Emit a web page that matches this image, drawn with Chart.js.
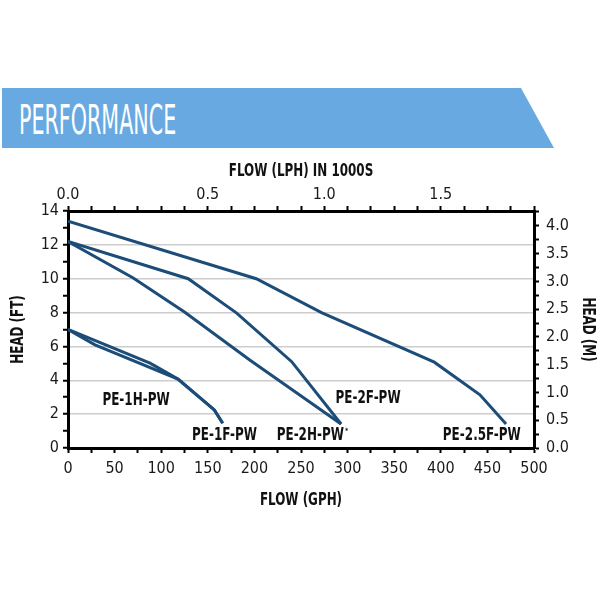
<!DOCTYPE html>
<html>
<head>
<meta charset="utf-8">
<script src="https://cdn.jsdelivr.net/npm/chart.js@4"></script>
<style>
  body { margin: 0; background: #fff; }
  #wrap { position: relative; width: 600px; height: 600px; }
  #chart { position: absolute; left: 0; top: 0; }
  .banner {
    position: absolute; left: 2px; top: 88px; width: 552px; height: 60px;
    background: #68a9e1;
    clip-path: polygon(0 0, 519px 0, 552px 100%, 0 100%);
  }
  .banner span {
    position: absolute; left: 17px; top: 12px;
    font-family: "DejaVu Sans Condensed", "Liberation Sans Narrow", sans-serif;
    font-size: 41px; line-height: 41px; color: #fff;
    transform: scaleX(0.56); transform-origin: left top;
    white-space: nowrap;
  }
</style>
</head>
<body>
<div id="wrap">
  <canvas id="chart" width="600" height="600"></canvas>
  <div class="banner"><span>PERFORMANCE</span></div>
</div>
<script>
// curves: flow in GPH, head in feet
const pe25fFlow = [0, 202, 272, 393, 442, 470];
const pe25fHead = [13.4, 10.0, 8.0, 5.07, 3.14, 1.42];
const pe2fFlow = [0, 129, 181, 240, 293];
const pe2fHead = [12.2, 10.0, 7.97, 5.1, 1.42];
const pe2hFlow = [0, 70, 125, 195, 293];
const pe2hHead = [12.2, 10.04, 8.03, 5.2, 1.42];
const pe1hFlow = [0, 29, 118, 157, 166];
const pe1hHead = [7.0, 6.09, 4.07, 2.25, 1.46];
const pe1fFlow = [0, 88, 118, 157, 166];
const pe1fHead = [7.0, 5.01, 4.07, 2.25, 1.46];

// curve names and where they sit (GPH, ft)
const labelNames = ["PE-1H-PW", "PE-1F-PW", "PE-2H-PW", "PE-2F-PW", "PE-2.5F-PW"];
const labelFlow = [73, 168, 260, 322, 444];
const labelHead = [2.84, 0.72, 0.72, 2.96, 0.72];

// top axis labels (LPH in 1000s) as printed, at these GPH ticks
const topTickGph = [0, 150, 275, 400];
const topTickText = ["0.0", "0.5", "1.0", "1.5"];

const lineColor = '#1c4c78';
const fontFam = '"DejaVu Sans Condensed", "Liberation Sans Narrow", sans-serif';
const tickFont = { family: fontFam, size: 16 };

function pts(xs, ys) {
    return xs.map((x, i) => ({ x: x, y: ys[i] }));
}

function curve(label, xs, ys) {
    return {
        label: label,
        data: pts(xs, ys),
        borderColor: lineColor,
        borderWidth: 3,
        pointRadius: 0,
        fill: false,
        tension: 0
    };
}

// narrow bold text, squeezed sideways like the condensed face of the original
function narrowText(ctx, text, x, y, rot, size, squeeze) {
    ctx.save();
    ctx.translate(x, y);
    ctx.rotate(rot);
    ctx.scale(squeeze, 1);
    ctx.font = 'bold ' + size + 'px ' + fontFam;
    ctx.textAlign = 'center';
    ctx.textBaseline = 'middle';
    ctx.fillText(text, 0, 0);
    const w = ctx.measureText(text).width;
    ctx.restore();
    return w * squeeze;
}

const textLayer = {
    id: 'textLayer',
    afterDraw(chart) {
        const ctx = chart.ctx;
        const a = chart.chartArea;
        const sx = chart.scales.x, sy = chart.scales.y;
        const cx = (a.left + a.right) / 2, cy = (a.top + a.bottom) / 2;
        ctx.save();
        ctx.fillStyle = '#111';
        // axis titles
        narrowText(ctx, 'FLOW (LPH) IN 1000S', cx, a.top - 39, 0, 17, 0.78);
        narrowText(ctx, 'FLOW (GPH)', cx, a.bottom + 53, 0, 17, 0.78);
        narrowText(ctx, 'HEAD (FT)', 19, cy, -Math.PI / 2, 17, 0.78);
        narrowText(ctx, 'HEAD (M)', 587, cy, Math.PI / 2, 17, 0.78);
        // curve names
        labelNames.forEach((name, i) => {
            const px = sx.getPixelForValue(labelFlow[i]);
            const py = sy.getPixelForValue(labelHead[i]);
            const w = narrowText(ctx, name, px, py, 0, 18, 0.74);
            if (name === "PE-2H-PW") {
                ctx.font = 'bold 7px ' + fontFam;
                ctx.textAlign = 'left';
                ctx.textBaseline = 'middle';
                ctx.fillText("*", px + w / 2 + 1, py - 5);
            }
        });
        ctx.restore();
    }
};

const ctx = document.getElementById('chart').getContext('2d');

new Chart(ctx, {
    type: 'line',
    data: {
        datasets: [
            curve('PE-2.5F-PW', pe25fFlow, pe25fHead),
            curve('PE-2F-PW', pe2fFlow, pe2fHead),
            curve('PE-2H-PW', pe2hFlow, pe2hHead),
            curve('PE-1H-PW', pe1hFlow, pe1hHead),
            curve('PE-1F-PW', pe1fFlow, pe1fHead)
        ]
    },
    options: {
        responsive: false,
        animation: false,
        layout: { padding: { left: 0, right: 0, top: 161, bottom: 90 } },
        plugins: { legend: { display: false }, tooltip: { enabled: false } },
        scales: {
            x: {
                type: 'linear', position: 'bottom', min: 0, max: 500,
                ticks: {
                    stepSize: 25, autoSkip: false, maxRotation: 0, padding: 6,
                    color: '#1a1a1a', font: tickFont,
                    callback: v => (v % 50 === 0 ? String(v) : '')
                },
                grid: { drawOnChartArea: false, tickLength: 5, tickWidth: 2, tickColor: '#000' },
                border: { color: '#000', width: 3 },
                afterFit: s => { s.height = 62; }
            },
            x2: {
                type: 'linear', position: 'top', min: 0, max: 500,
                ticks: {
                    stepSize: 25, autoSkip: false, maxRotation: 0, padding: 2,
                    color: '#1a1a1a', font: tickFont,
                    callback: v => {
                        const i = topTickGph.indexOf(v);
                        return i >= 0 ? topTickText[i] : '';
                    }
                },
                grid: { drawOnChartArea: false, tickLength: 5, tickWidth: 2, tickColor: '#000' },
                border: { color: '#000', width: 3 },
                afterFit: s => { s.height = 50; }
            },
            y: {
                type: 'linear', position: 'left', min: 0, max: 14,
                ticks: {
                    stepSize: 1, autoSkip: false, padding: 4,
                    color: '#1a1a1a', font: tickFont,
                    callback: v => (v % 2 === 0 ? String(v) : '')
                },
                grid: {
                    color: c => (c.tick && c.tick.value % 2 === 0 ? '#cdcdcd' : 'rgba(0,0,0,0)'),
                    lineWidth: 1.5, tickLength: 5, tickWidth: 2, tickColor: '#000'
                },
                border: { color: '#000', width: 3 },
                afterFit: s => { s.width = 68; }
            },
            y2: {
                type: 'linear', position: 'right', min: 0, max: 14 * 0.3048,
                ticks: {
                    stepSize: 0.25, autoSkip: false, padding: 7, includeBounds: false,
                    color: '#1a1a1a', font: tickFont,
                    callback: v => (Math.abs(v * 2 - Math.round(v * 2)) < 1e-6 ? v.toFixed(1) : '')
                },
                grid: { drawOnChartArea: false, tickLength: 5, tickWidth: 2, tickColor: '#000' },
                border: { color: '#000', width: 3 },
                afterFit: s => { s.width = 66; }
            }
        }
    },
    plugins: [textLayer]
});
</script>
</body>
</html>
